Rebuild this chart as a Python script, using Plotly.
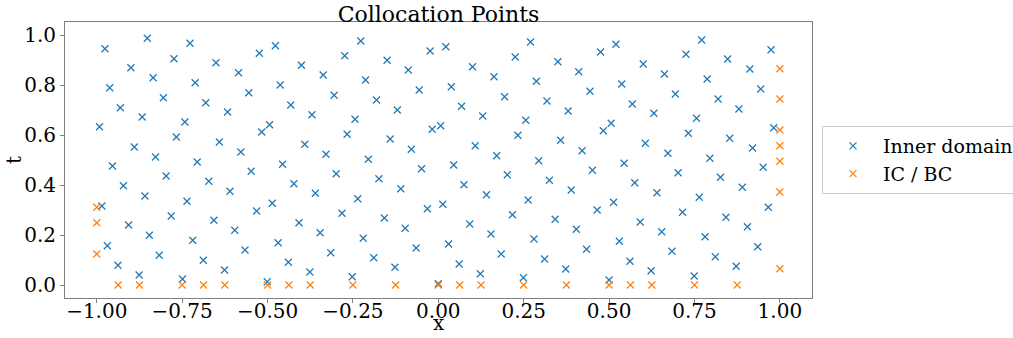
import plotly.graph_objects as go

# Inner domain collocation points (x, t)
inner_x = [
    -0.852, -0.976, -0.900, -0.835, -0.962, -0.931, -0.867, -0.992, -0.890, -0.828,
    -0.954, -0.922, -0.859, -0.985, -0.907, -0.846, -0.969, -0.817, -0.938, -0.876,
    -0.727, -0.774, -0.651, -0.585, -0.712, -0.805, -0.555, -0.681, -0.617, -0.742,
    -0.767, -0.641, -0.578, -0.706, -0.797, -0.548, -0.672, -0.610, -0.736, -0.782,
    -0.657, -0.596, -0.719, -0.566, -0.688, -0.626, -0.749,
    -0.524, -0.477, -0.274, -0.401, -0.337, -0.463, -0.305, -0.432, -0.370, -0.494,
    -0.517, -0.267, -0.391, -0.329, -0.456, -0.299, -0.423, -0.360, -0.486, -0.532,
    -0.282, -0.408, -0.346, -0.469, -0.315, -0.439, -0.376, -0.501,
    -0.227, -0.150, -0.024, 0.022, -0.088, -0.213, -0.056, -0.181, -0.120, -0.244,
    -0.018, 0.007, -0.141, -0.079, -0.205, -0.049, -0.174, -0.110, -0.236, 0.013,
    -0.032, -0.158, -0.097, -0.220, -0.065, -0.189, -0.127, -0.252, 0.000,
    0.270, 0.100, 0.225, 0.163, 0.038, 0.287, 0.194, 0.068, 0.130, 0.256,
    0.233, 0.108, 0.171, 0.045, 0.294, 0.202, 0.075, 0.141, 0.263, 0.217,
    0.092, 0.154, 0.030, 0.280, 0.184, 0.061, 0.123, 0.249,
    0.520, 0.475, 0.350, 0.411, 0.537, 0.444, 0.318, 0.568, 0.380, 0.506,
    0.483, 0.358, 0.421, 0.544, 0.451, 0.325, 0.575, 0.389, 0.513, 0.465,
    0.342, 0.404, 0.530, 0.434, 0.311, 0.561, 0.373, 0.500,
    0.771, 0.725, 0.600, 0.847, 0.662, 0.787, 0.694, 0.819, 0.631, 0.756,
    0.732, 0.853, 0.606, 0.672, 0.795, 0.702, 0.826, 0.640, 0.764, 0.715,
    0.591, 0.842, 0.654, 0.781, 0.684, 0.811, 0.623, 0.749,
    0.974, 0.912, 0.944, 0.880, 0.982, 0.920, 0.951, 0.890, 0.966, 0.905,
    0.935, 0.872,
]
inner_t = [
    0.987, 0.945, 0.869, 0.829, 0.789, 0.709, 0.672, 0.633, 0.552, 0.512,
    0.476, 0.397, 0.356, 0.316, 0.240, 0.199, 0.157, 0.119, 0.079, 0.040,
    0.967, 0.905, 0.889, 0.849, 0.809, 0.749, 0.769, 0.729, 0.692, 0.652,
    0.592, 0.572, 0.532, 0.492, 0.436, 0.455, 0.415, 0.375, 0.335, 0.276,
    0.259, 0.219, 0.179, 0.140, 0.099, 0.060, 0.024,
    0.927, 0.957, 0.917, 0.879, 0.840, 0.800, 0.759, 0.720, 0.681, 0.641,
    0.612, 0.603, 0.563, 0.523, 0.483, 0.445, 0.405, 0.367, 0.327, 0.296,
    0.287, 0.249, 0.209, 0.169, 0.129, 0.091, 0.052, 0.013,
    0.976, 0.899, 0.936, 0.953, 0.860, 0.820, 0.780, 0.740, 0.700, 0.663,
    0.623, 0.637, 0.584, 0.543, 0.503, 0.465, 0.425, 0.385, 0.345, 0.323,
    0.305, 0.268, 0.227, 0.187, 0.148, 0.109, 0.071, 0.033, 0.005,
    0.972, 0.873, 0.912, 0.833, 0.793, 0.815, 0.753, 0.715, 0.676, 0.659,
    0.599, 0.557, 0.517, 0.480, 0.497, 0.441, 0.401, 0.361, 0.340, 0.281,
    0.244, 0.204, 0.164, 0.184, 0.124, 0.084, 0.045, 0.029,
    0.963, 0.932, 0.893, 0.853, 0.804, 0.775, 0.736, 0.724, 0.696, 0.647,
    0.617, 0.579, 0.537, 0.487, 0.459, 0.419, 0.409, 0.380, 0.331, 0.300,
    0.263, 0.223, 0.175, 0.143, 0.104, 0.095, 0.064, 0.020,
    0.980, 0.923, 0.884, 0.904, 0.844, 0.824, 0.764, 0.744, 0.687, 0.667,
    0.607, 0.587, 0.567, 0.527, 0.507, 0.449, 0.431, 0.369, 0.351, 0.291,
    0.252, 0.271, 0.213, 0.193, 0.135, 0.113, 0.057, 0.036,
    0.941, 0.864, 0.784, 0.704, 0.629, 0.548, 0.471, 0.391, 0.311, 0.233,
    0.153, 0.075,
]

# Initial / boundary condition points (x, t)
bc_x = [
    -0.9375, -0.875, -0.75, -0.6875, -0.625, -0.5, -0.4375, -0.375, -0.25, -0.125,
    0.0, 0.0625, 0.125, 0.25, 0.375, 0.5, 0.5625, 0.625, 0.75, 0.875,
    -1.0, -1.0, -1.0,
    1.0, 1.0, 1.0, 1.0, 1.0, 1.0, 1.0,
]
bc_t = [
    0.0, 0.0, 0.0, 0.0, 0.0, 0.0, 0.0, 0.0, 0.0, 0.0,
    0.0, 0.0, 0.0, 0.0, 0.0, 0.0, 0.0, 0.0, 0.0, 0.0,
    0.311, 0.249, 0.124,
    0.865, 0.744, 0.620, 0.557, 0.495, 0.372, 0.065,
]

x_ticks = [-1.0, -0.75, -0.5, -0.25, 0.0, 0.25, 0.5, 0.75, 1.0]
t_ticks = [0.0, 0.2, 0.4, 0.6, 0.8, 1.0]

SERIF = "DejaVu Serif"
BLUE = "#1f77b4"
ORANGE = "#ff7f0e"
W, H = 1013, 338
L, R, T, B = 65, 812, 22, 298

fig = go.Figure()
fig.add_trace(go.Scatter(
    x=inner_x, y=inner_t, mode="markers", name="Inner domain",
    marker=dict(symbol="x-thin", size=7, line=dict(width=1.2, color=BLUE), color=BLUE),
))
fig.add_trace(go.Scatter(
    x=bc_x, y=bc_t, mode="markers", name="IC / BC",
    marker=dict(symbol="x-thin", size=7, line=dict(width=1.2, color=ORANGE), color=ORANGE),
))

axis_common = dict(
    showgrid=False, zeroline=False, showline=True, mirror=True,
    linecolor="#808080", linewidth=1, ticks="outside", ticklen=4,
    tickcolor="#808080", tickfont=dict(family=SERIF, size=20, color="black"),
    automargin=False,
)

fig.update_layout(
    width=W, height=H,
    margin=dict(l=L, r=W - R, t=T, b=H - B, autoexpand=False),
    paper_bgcolor="white", plot_bgcolor="white",
    title=dict(text="Collocation Points", x=(L + R) / 2 / W, xanchor="center",
               y=1 - 14 / H, yanchor="middle",
               font=dict(family=SERIF, size=22, color="black")),
    xaxis=dict(range=[-1.093, 1.094], tickvals=x_ticks,
               ticktext=[f"{v:.2f}".replace("-", "\u2212") for v in x_ticks],
               ticklabelstandoff=-9,
               **axis_common),
    yaxis=dict(range=[-0.052, 1.052], tickvals=t_ticks,
               ticktext=[f"{v:.1f}" for v in t_ticks],
               **axis_common),
    legend=dict(x=(822 - L) / (R - L), xanchor="left", y=0.5, yanchor="middle",
                bordercolor="#cccccc", borderwidth=1, bgcolor="white",
                font=dict(family=SERIF, size=19, color="black"),
                itemwidth=50, tracegroupgap=0),
    showlegend=True,
    annotations=[
        dict(text="x", xref="paper", yref="paper", x=0.5, y=-(H - 1 - B) / (B - T),
             xanchor="center", yanchor="bottom", showarrow=False,
             font=dict(family=SERIF, size=20, color="black")),
        dict(text="t", xref="paper", yref="paper", x=-(L - 14) / (R - L), y=0.5,
             xanchor="center", yanchor="middle", showarrow=False, textangle=-90,
             font=dict(family=SERIF, size=20, color="black")),
    ],
)

fig.write_html("out.html")
